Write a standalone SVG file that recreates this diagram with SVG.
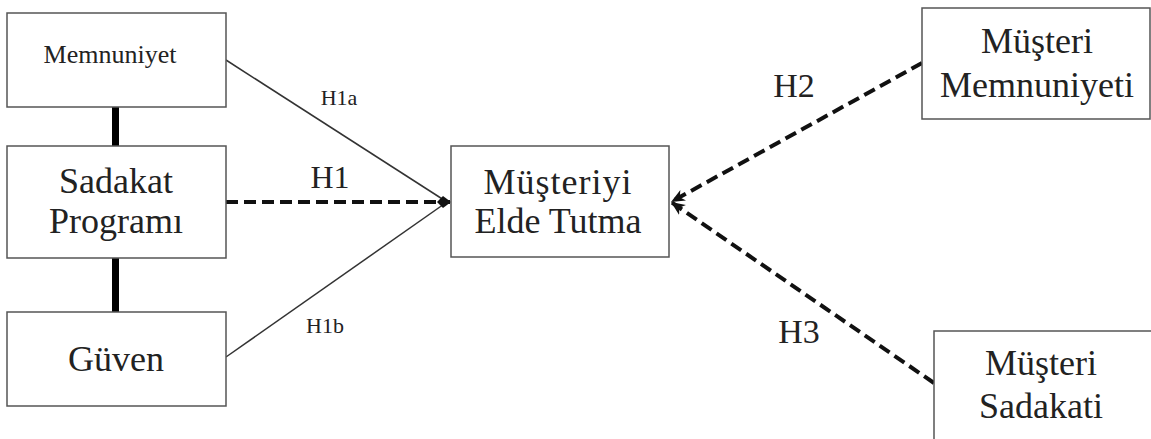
<svg xmlns="http://www.w3.org/2000/svg" width="1151" height="439" viewBox="0 0 1151 439">
<style>
.box{fill:#fff;stroke:#555;stroke-width:1.5}
.t{font-family:"Liberation Serif","Times New Roman",serif;font-size:36px;fill:#222;text-anchor:middle}
.l{font-family:"Liberation Serif","Times New Roman",serif;font-size:34px;fill:#222;text-anchor:middle}
.s{font-family:"Liberation Serif","Times New Roman",serif;font-size:22px;fill:#222;text-anchor:middle}
.thin{stroke:#333;stroke-width:1.5;fill:none}
.dash{stroke:#111;stroke-width:4;fill:none;stroke-dasharray:12 6}
.bar{stroke:#000;stroke-width:7}
</style>
<defs>
<marker id="dia" markerWidth="14" markerHeight="12" refX="13" refY="6" orient="auto" markerUnits="userSpaceOnUse">
<path d="M0,6 L6,0 L14,6 L6,12 Z" fill="#111"/>
</marker>
<marker id="arr" markerWidth="16" markerHeight="14" refX="14" refY="7" orient="auto" markerUnits="userSpaceOnUse">
<path d="M0,1 L14,7 L0,13 L4,7 Z" fill="#111"/>
</marker>
</defs>
<g id="connectors">
<line class="bar" x1="115.5" y1="107" x2="115.5" y2="146"/>
<line class="bar" x1="115.5" y1="258" x2="115.5" y2="312"/>
<line class="thin" x1="226" y1="60" x2="447" y2="202"/>
<line class="thin" x1="226" y1="357" x2="447" y2="202"/>
<line class="dash" x1="226" y1="202" x2="450" y2="202" marker-end="url(#dia)"/>
<line class="dash" x1="922" y1="63" x2="671" y2="202" marker-end="url(#arr)"/>
<line class="dash" x1="934" y1="383" x2="671" y2="202" marker-end="url(#arr)"/>
<text class="s" x="339" y="105">H1a</text>
<text class="l" x="330" y="188" style="font-size:32px">H1</text>
<text class="s" x="325" y="333">H1b</text>
<text class="l" x="794" y="97">H2</text>
<text class="l" x="799" y="343">H3</text>
</g>
<g id="memnuniyet">
<rect class="box" x="7" y="13" width="219" height="94"/>
<text class="s" x="110" y="63" style="font-size:26px">Memnuniyet</text>
</g>
<g id="sadakat">
<rect class="box" x="7" y="146" width="219" height="112"/>
<text class="t" x="116" y="193">Sadakat</text>
<text class="t" x="116" y="233">Programı</text>
</g>
<g id="guven">
<rect class="box" x="7" y="312" width="219" height="94"/>
<text class="t" x="116" y="371">Güven</text>
</g>
<g id="elde">
<rect class="box" x="451" y="146" width="218" height="111"/>
<text class="t" x="558" y="194" style="letter-spacing:1px">Müşteriyi</text>
<text class="t" x="558" y="233">Elde Tutma</text>
</g>
<g id="musteri-memnuniyeti">
<rect class="box" x="922" y="8" width="228" height="111"/>
<text class="t" x="1037" y="53">Müşteri</text>
<text class="t" x="1037" y="97">Memnuniyeti</text>
</g>
<g id="musteri-sadakati">
<rect class="box" x="934" y="331" width="230" height="130"/>
<text class="t" x="1041" y="375">Müşteri</text>
<text class="t" x="1041" y="418">Sadakati</text>
</g>
</svg>
